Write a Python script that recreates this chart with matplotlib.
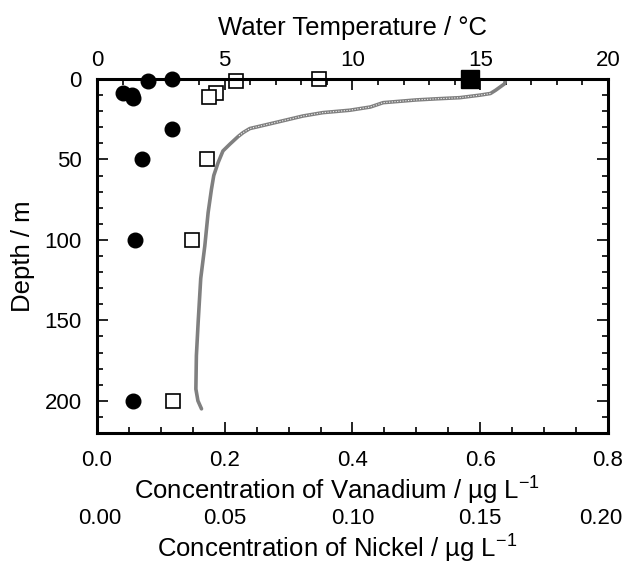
import matplotlib
matplotlib.use("Agg")
import matplotlib.pyplot as plt
from matplotlib.ticker import MultipleLocator
from matplotlib.transforms import ScaledTranslation

plt.rcParams['font.family'] = ['Liberation Sans', 'DejaVu Sans']
plt.rcParams['mathtext.fontset'] = 'custom'
plt.rcParams['mathtext.rm'] = 'Liberation Sans'

# Vanadium (filled circles), ug/L
v_conc = [0.118, 0.080, 0.041, 0.055, 0.057, 0.117, 0.070, 0.060, 0.056]
v_depth = [0, 1, 9, 10, 12, 31, 50, 100, 200]

# Nickel (open squares), ug/L
ni_conc = [0.087, 0.0544, 0.0465, 0.0437, 0.0429, 0.0373, 0.0296]
ni_depth = [0, 1, 9, 11, 50, 100, 200]
# Nickel surface value (filled square)
ni_flag_conc = [0.146]
ni_flag_depth = [0]

# Water temperature profile
t_temp = [16.0, 15.95, 15.6, 15.4, 15.0, 14.2, 13.3, 12.5, 11.2, 10.7, 9.9, 8.84, 8.06,
          7.0, 5.98, 5.72, 5.52, 5.2, 4.93, 4.74, 4.57, 4.48, 4.35, 4.22, 4.06, 3.96,
          3.89, 3.87, 3.95, 4.09]
t_depth = [0, 3, 7, 9, 10, 11.6, 12.3, 13, 14.7, 17.4, 19.4, 20.9, 23,
           27, 30.8, 33.3, 35.8, 40.5, 44.7, 52, 60, 68.5, 83, 103.7, 124, 151,
           172, 192.7, 200, 205]

v_ticks = [0, 0.2, 0.4, 0.6, 0.8]
v_ticklabels = ['0.0', '0.2', '0.4', '0.6', '0.8']
ni_ticks = [0, 0.05, 0.10, 0.15, 0.20]
ni_ticklabels = ['0.00', '0.05', '0.10', '0.15', '0.20']
depth_ticks = [0, 50, 100, 150, 200]

TFS = 16     # tick labels
LFS = 18.5   # axis labels
fig = plt.figure(figsize=(6.29, 5.70), dpi=100)
ax = fig.add_axes([0.1542, 0.2404, 0.8124, 0.621])

ax.set_xlim(0, 0.8)
ax.set_ylim(220, 0)
ax.xaxis.set_minor_locator(MultipleLocator(0.05))
ax.yaxis.set_minor_locator(MultipleLocator(10))
ax.tick_params(axis='both', which='both', direction='in', right=True, top=False,
               labelsize=TFS, width=1.2)
ax.tick_params(axis='both', which='major', length=8)
ax.tick_params(axis='both', which='minor', length=4)
ax.tick_params(axis='x', pad=12.5)
ax.tick_params(axis='y', pad=11)
ax.set_xticks(v_ticks)
ax.set_xticklabels(v_ticklabels)
ax.set_yticks(depth_ticks)
for s in ax.spines.values():
    s.set_linewidth(2.2)
ax.set_xlabel(r'Concentration of Vanadium / µg L$^{\mathregular{-1}}$', fontsize=LFS)
ax.xaxis.label.set_va('center')
ax.xaxis.set_label_coords(0.47, -0.161)
ax.set_ylabel('Depth / m', fontsize=LFS)
ax.yaxis.label.set_va('center')
ax.yaxis.set_label_coords(-0.145, 0.5)

# Nickel axis (labels only, below)
ax_ni = ax.twiny()
ax_ni.set_xlim(0, 0.2)
ax_ni.xaxis.set_ticks_position('bottom')
ax_ni.xaxis.set_label_position('bottom')
ax_ni.spines['bottom'].set_position(('axes', -0.209))
for s in ax_ni.spines.values():
    s.set_visible(False)
ax_ni.set_xticks(ni_ticks)
ax_ni.set_xticklabels(ni_ticklabels)
ax_ni.tick_params(axis='x', length=0, labelsize=TFS, pad=1)
lbl = ax_ni.get_xticklabels()[-1]
lbl.set_transform(lbl.get_transform() + ScaledTranslation(-7 / 100, 0, fig.dpi_scale_trans))
lbl0 = ax_ni.get_xticklabels()[0]
lbl0.set_transform(lbl0.get_transform() + ScaledTranslation(3 / 100, 0, fig.dpi_scale_trans))
ax_ni.set_xlabel(r'Concentration of Nickel / µg L$^{\mathregular{-1}}$', fontsize=LFS)
ax_ni.xaxis.label.set_va('center')
ax_ni.xaxis.set_label_coords(0.47, -0.325)

# Temperature axis (top)
ax_t = ax.twiny()
ax_t.set_xlim(0, 20)
ax_t.xaxis.set_ticks_position('top')
ax_t.xaxis.set_label_position('top')
ax_t.xaxis.set_major_locator(MultipleLocator(5))
ax_t.xaxis.set_minor_locator(MultipleLocator(1))
ax_t.tick_params(axis='x', which='both', direction='in', labelsize=TFS, width=1.2, pad=6)
ax_t.tick_params(axis='x', which='major', length=8)
ax_t.tick_params(axis='x', which='minor', length=4)
for s in ax_t.spines.values():
    s.set_visible(False)
ax_t.set_xlabel('Water Temperature / °C', fontsize=LFS)
ax_t.xaxis.label.set_va('center')
ax_t.xaxis.set_label_coords(0.5, 1.143)

ax_t.plot(t_temp, t_depth, color='#808080', lw=2.6, solid_capstyle='round', zorder=2)
# beaded look in the thermocline
thermo = [(t, d) for t, d in zip(t_temp, t_depth) if 9 <= d <= 36]
ax_t.plot([p[0] for p in thermo], [p[1] for p in thermo], color='white',
          lw=0.7, linestyle=(0, (1.2, 1.6)), zorder=2.1)

ax_ni.plot(ni_conc, ni_depth, linestyle='none', marker='s', ms=10.5, mfc='white',
           mec='black', mew=1.2, clip_on=False, zorder=3)
ax_ni.plot(ni_flag_conc, ni_flag_depth, linestyle='none', marker='s', ms=13,
           mfc='black', mec='black', clip_on=False, zorder=3)
ax.plot(v_conc, v_depth, linestyle='none', marker='o', ms=10.5, mfc='black',
        mec='black', clip_on=False, zorder=3)

ax_ni.set_zorder(3)
ax_ni.patch.set_visible(False)
ax_t.set_zorder(2)
ax_t.patch.set_visible(False)
ax.set_zorder(4)
ax.patch.set_visible(False)

fig.savefig('out.png', dpi=100, facecolor='white')
